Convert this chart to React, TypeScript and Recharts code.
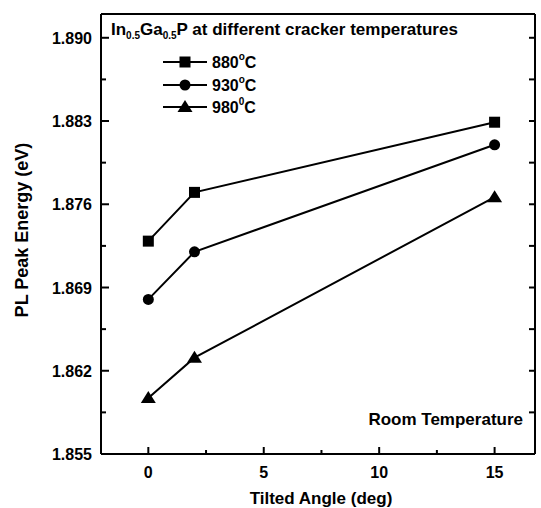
import React from 'react'
import { LineChart, Line, XAxis, YAxis, Legend } from 'recharts'

// PL peak energy vs. tilted angle for three cracker temperatures
const angles = [0, 2, 15]
const pl880 = [1.8729, 1.877, 1.8829]
const pl930 = [1.868, 1.872, 1.881]
const pl980 = [1.8597, 1.8631, 1.8766]

const xTicks = [0, 2.5, 5, 7.5, 10, 12.5, 15]
const yTicks = [1.855, 1.8585, 1.862, 1.8655, 1.869, 1.8725, 1.876, 1.8795, 1.883, 1.8865, 1.89]

const seriesKeys = ['t880', 't930', 't980']
const seriesLabels = ['880', '930', '980']
const seriesSup = ['o', 'o', '0']
const seriesShapes = ['square', 'circle', 'triangle']

const rows = angles.map((a, i) => ({ angle: a, t880: pl880[i], t930: pl930[i], t980: pl980[i] }))

const FONT = '"Liberation Sans", Arial, Helvetica, sans-serif'
const W = 541
const H = 508

function Marker({ shape, cx, cy }) {
  if (shape === 'square') return <rect x={cx - 5.5} y={cy - 5.5} width={11} height={11} fill="#000" />
  if (shape === 'circle') return <circle cx={cx} cy={cy} r={5.5} fill="#000" />
  return <polygon points={`${cx},${cy - 7} ${cx - 7.5},${cy + 5} ${cx + 7.5},${cy + 5}`} fill="#000" />
}

const dotFor = (shape) => (p) => <Marker key={`${shape}-${p.index}`} shape={shape} cx={p.cx} cy={p.cy} />

function LeftTick({ x, y, index, payload }) {
  const major = index % 2 === 0
  return (
    <g>
      <line x1={x} x2={x + (major ? 8 : 5)} y1={y} y2={y} stroke="#000" strokeWidth={2} />
      {major && (
        <text x={x - 9} y={y + 6} textAnchor="end" fontFamily={FONT} fontWeight="bold" fontSize={16} fill="#000">
          {Number(payload.value).toFixed(3)}
        </text>
      )}
    </g>
  )
}

function RightTick({ x, y }) {
  return <line x1={x} x2={x - 6} y1={y} y2={y} stroke="#000" strokeWidth={2} />
}

function BottomTick({ x, y, index, payload }) {
  const major = index % 2 === 0
  return (
    <g>
      <line x1={x} x2={x} y1={y} y2={y - (major ? 7 : 4)} stroke="#000" strokeWidth={2} />
      {major && (
        <text x={x} y={y + 24} textAnchor="middle" fontFamily={FONT} fontWeight="bold" fontSize={16} fill="#000">
          {payload.value}
        </text>
      )}
    </g>
  )
}

function TopTick({ x, y }) {
  return <line x1={x} x2={x} y1={y} y2={y + 6} stroke="#000" strokeWidth={2} />
}

function Annotations() {
  const txt = { fontFamily: FONT, fontWeight: 'bold', fill: '#000' }
  const rowY = [62, 85, 107]
  return (
    <svg width={W} height={H} style={{ position: 'absolute', left: 0, top: 0 }}>
      <text x={111} y={35} fontSize={17} {...txt}>
        In<tspan fontSize={10} dy={4}>0.5</tspan>
        <tspan dy={-4}>Ga</tspan><tspan fontSize={10} dy={4}>0.5</tspan>
        <tspan dy={-4}>P at different cracker temperatures</tspan>
      </text>
      {seriesLabels.map((lab, i) => (
        <g key={lab}>
          <line x1={163} x2={207} y1={rowY[i]} y2={rowY[i]} stroke="#000" strokeWidth={2} />
          <Marker shape={seriesShapes[i]} cx={185} cy={rowY[i]} />
          <text x={212} y={rowY[i] + 6} fontSize={16} {...txt}>
            {lab}<tspan fontSize={10} dy={-8}>{seriesSup[i]}</tspan><tspan dy={8}>C</tspan>
          </text>
        </g>
      ))}
      <text x={523} y={425} textAnchor="end" fontSize={17} {...txt}>Room Temperature</text>
      <text x={321} y={504} textAnchor="middle" fontSize={17} {...txt}>Tilted Angle (deg)</text>
      <text transform="translate(28,230) rotate(-90)" textAnchor="middle" fontSize={18} {...txt}>PL Peak Energy (eV)</text>
    </svg>
  )
}

export default function App() {
  return (
    <div style={{ position: 'absolute', left: 0, top: 0, width: W, height: H, background: '#fff' }}>
      <LineChart width={W} height={H} data={rows} margin={{ top: 13, right: 5, bottom: 0, left: 0 }}>
        <XAxis
          dataKey="angle" type="number" domain={[-2.05, 16.75]} allowDataOverflow ticks={xTicks} interval={0}
          height={54} tickSize={0} tickMargin={0} tickLine={false}
          axisLine={{ stroke: '#000', strokeWidth: 2 }} tick={BottomTick}
        />
        <XAxis
          xAxisId="top" orientation="top" type="number" domain={[-2.05, 16.75]} allowDataOverflow ticks={xTicks} interval={0}
          height={1} tickSize={0} tickMargin={0} tickLine={false}
          axisLine={{ stroke: '#000', strokeWidth: 2 }} tick={TopTick}
        />
        <YAxis
          type="number" domain={[1.855, 1.892]} allowDataOverflow ticks={yTicks} interval={0}
          width={101} tickSize={0} tickMargin={0} tickLine={false}
          axisLine={{ stroke: '#000', strokeWidth: 2 }} tick={LeftTick}
        />
        <YAxis
          yAxisId="right" orientation="right" type="number" domain={[1.855, 1.892]} allowDataOverflow ticks={yTicks} interval={0}
          width={1} tickSize={0} tickMargin={0} tickLine={false}
          axisLine={{ stroke: '#000', strokeWidth: 2 }} tick={RightTick}
        />
        <Legend
          layout="vertical" align="center" verticalAlign="middle"
          wrapperStyle={{ left: 0, top: 0, width: W, height: H, pointerEvents: 'none' }}
          content={() => <Annotations />}
        />
        {seriesKeys.map((k, i) => (
          <Line
            key={k} dataKey={k} type="linear" stroke="#000" strokeWidth={2}
            dot={dotFor(seriesShapes[i])} activeDot={false} isAnimationActive={false}
          />
        ))}
      </LineChart>
    </div>
  )
}
